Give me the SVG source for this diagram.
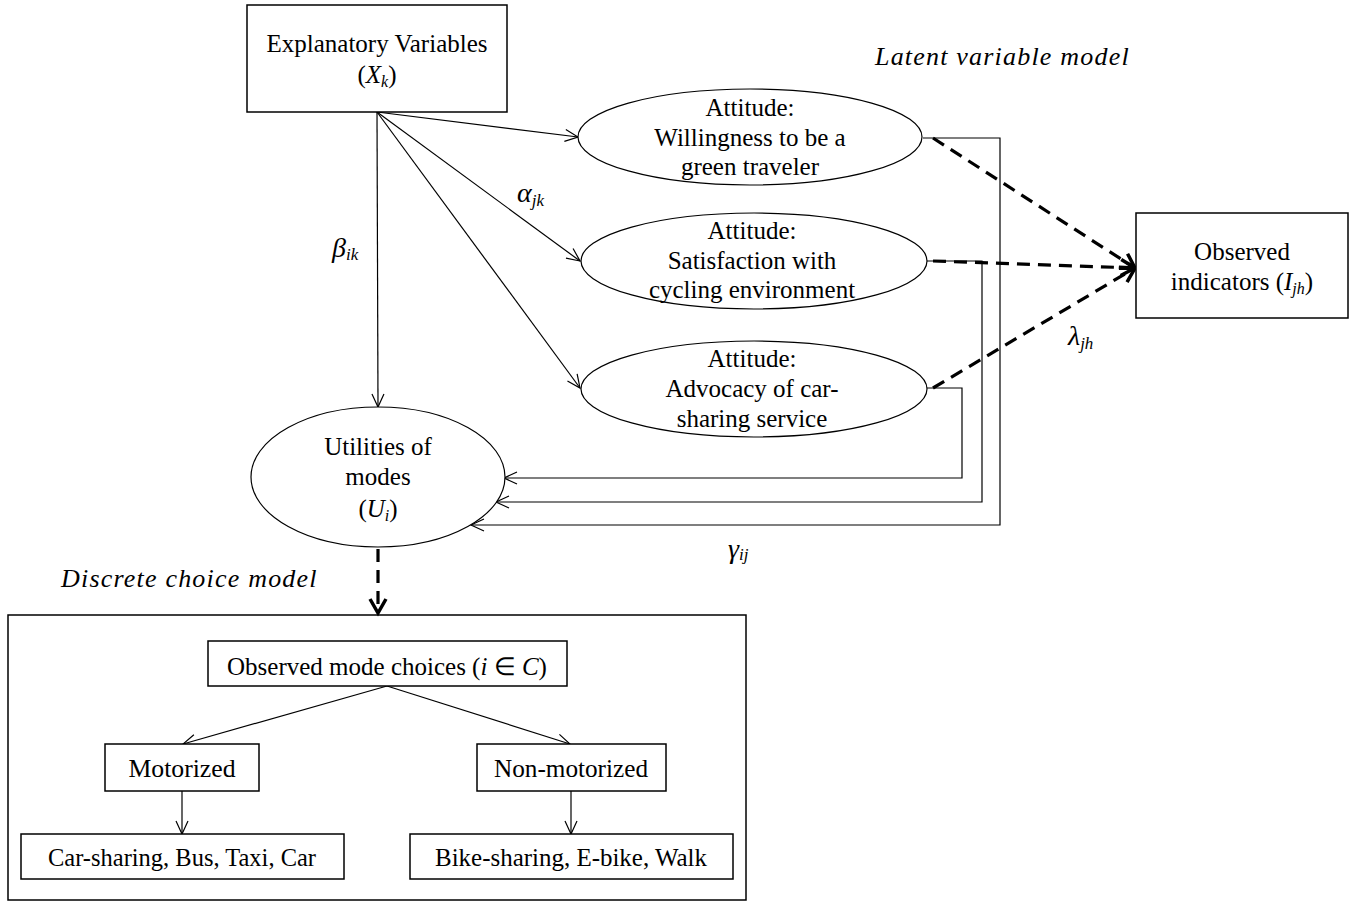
<svg xmlns="http://www.w3.org/2000/svg" width="1351" height="905" viewBox="0 0 1351 905">
  <style>
    text { font-family: "Liberation Serif", "Times New Roman", serif; fill: #000; }
    .t { font-size: 25px; text-anchor: middle; }
    .b { font-size: 26px; text-anchor: middle; }
    .it { font-style: italic; }
    .sub { font-size: 16px; font-style: italic; }
    .greek { font-size: 28px; font-style: italic; }
    .gsub { font-size: 17px; font-style: italic; }
    .title { font-size: 26px; font-style: italic; letter-spacing: 1.2px; }
    .box { fill: #fff; stroke: #000; stroke-width: 1.5; }
    .frame { fill: none; stroke: #000; stroke-width: 1.5; }
    .ell { fill: #fff; stroke: #000; stroke-width: 1.2; }
    .ln { fill: none; stroke: #000; stroke-width: 1.2; }
    .dash { fill: none; stroke: #000; stroke-width: 3.2; stroke-dasharray: 13 8; }
  </style>
  <defs>
    <marker id="open" markerUnits="userSpaceOnUse" markerWidth="16" markerHeight="16" viewBox="-14 -8 16 16" refX="0" refY="0" orient="auto">
      <path d="M-13,-6 L0,0 L-13,6" fill="none" stroke="#000" stroke-width="1.2"/>
    </marker>
    <marker id="bold" markerUnits="userSpaceOnUse" markerWidth="22" markerHeight="22" viewBox="-18 -11 22 22" refX="0" refY="0" orient="auto">
      <path d="M-14,-8 L0,0 L-14,8" fill="none" stroke="#000" stroke-width="3.5"/>
    </marker>
  </defs>

  <!-- section titles -->
  <text class="title" x="875" y="65">Latent variable model</text>
  <text class="title" x="61" y="587">Discrete choice model</text>

  <!-- frame of the discrete choice model -->
  <g id="choice-model">
    <rect class="frame" x="8" y="615" width="738" height="285"/>
  </g>

  <!-- connectors -->
  <g id="connectors">
    <!-- explanatory variables to attitudes and utilities -->
    <line class="ln" x1="377" y1="112" x2="578" y2="137" marker-end="url(#open)"/>
    <line class="ln" x1="377" y1="112" x2="580" y2="261" marker-end="url(#open)"/>
    <line class="ln" x1="377" y1="112" x2="580" y2="388" marker-end="url(#open)"/>
    <line class="ln" x1="377" y1="112" x2="378" y2="407" marker-end="url(#open)"/>
    <!-- attitudes to utilities -->
    <polyline class="ln" points="923,138 1000,138 1000,525 471,525" marker-end="url(#open)"/>
    <polyline class="ln" points="927,261 982,261 982,502 496,502" marker-end="url(#open)"/>
    <polyline class="ln" stroke="#333" points="927,388 962,388 962,478 504,478" marker-end="url(#open)"/>
    <!-- attitudes to observed indicators -->
    <line class="dash" x1="933" y1="138" x2="1135" y2="268" marker-end="url(#bold)"/>
    <line class="dash" x1="933" y1="261" x2="1135" y2="268" marker-end="url(#bold)"/>
    <line class="dash" x1="933" y1="388" x2="1135" y2="268" marker-end="url(#bold)"/>
    <!-- utilities to choices -->
    <line class="dash" x1="378" y1="549" x2="378" y2="613" stroke-dasharray="14 9" marker-end="url(#bold)"/>
    <!-- choice tree -->
    <line class="ln" x1="387" y1="686" x2="183" y2="744" marker-end="url(#open)"/>
    <line class="ln" x1="387" y1="686" x2="570" y2="744" marker-end="url(#open)"/>
    <line class="ln" x1="182" y1="791" x2="182" y2="834" marker-end="url(#open)"/>
    <line class="ln" x1="571" y1="791" x2="571" y2="834" marker-end="url(#open)"/>
  </g>

  <!-- coefficient labels -->
  <text class="greek" x="332" y="257">β<tspan class="gsub" dy="3">ik</tspan></text>
  <text class="greek" x="517" y="202">α<tspan class="gsub" dy="4">jk</tspan></text>
  <text class="greek" x="1068" y="345">λ<tspan class="gsub" dy="4">jh</tspan></text>
  <text class="greek" x="728" y="558">γ<tspan class="gsub" dy="2">ij</tspan></text>

  <g id="explanatory">
    <rect class="box" x="247" y="5" width="260" height="107"/>
    <text class="t" x="377" y="52">Explanatory Variables</text>
    <text class="t" x="377" y="83">(<tspan class="it">X</tspan><tspan class="sub" dy="4">k</tspan><tspan dy="-4">)</tspan></text>
  </g>

  <g id="attitude-green">
    <ellipse class="ell" cx="750" cy="137" rx="172" ry="48"/>
    <text class="t" x="750" y="116">Attitude:</text>
    <text class="t" x="750" y="146">Willingness to be a</text>
    <text class="t" x="750" y="175">green traveler</text>
  </g>

  <g id="attitude-cycling">
    <ellipse class="ell" cx="754" cy="261" rx="173" ry="48"/>
    <text class="t" x="752" y="239">Attitude:</text>
    <text class="t" x="752" y="269">Satisfaction with</text>
    <text class="t" x="752" y="298">cycling environment</text>
  </g>

  <g id="attitude-carsharing">
    <ellipse class="ell" cx="754" cy="389" rx="173" ry="48"/>
    <text class="t" x="752" y="367">Attitude:</text>
    <text class="t" x="752" y="397">Advocacy of car-</text>
    <text class="t" x="752" y="427">sharing service</text>
  </g>

  <g id="indicators">
    <rect class="box" x="1136" y="213" width="212" height="105"/>
    <text class="t" x="1242" y="260">Observed</text>
    <text class="t" x="1242" y="290">indicators (<tspan class="it">I</tspan><tspan class="sub" dy="4">jh</tspan><tspan dy="-4">)</tspan></text>
  </g>

  <g id="utilities">
    <ellipse class="ell" cx="378" cy="477" rx="127" ry="70"/>
    <text class="t" x="378" y="455">Utilities of</text>
    <text class="t" x="378" y="485">modes</text>
    <text class="t" x="378" y="517">(<tspan class="it">U</tspan><tspan class="sub" dy="4">i</tspan><tspan dy="-4">)</tspan></text>
  </g>

  <g id="observed-choices">
    <rect class="box" x="208" y="641" width="359" height="45"/>
    <text class="b" x="387" y="675" style="font-size:25px">Observed mode choices (<tspan class="it">i</tspan> ∈ <tspan class="it">C</tspan>)</text>
  </g>

  <g id="motorized">
    <rect class="box" x="105" y="744" width="154" height="47"/>
    <text class="b" x="182" y="777" textLength="107" lengthAdjust="spacingAndGlyphs">Motorized</text>
  </g>

  <g id="non-motorized">
    <rect class="box" x="477" y="744" width="189" height="47"/>
    <text class="b" x="571" y="777" textLength="154" lengthAdjust="spacingAndGlyphs">Non-motorized</text>
  </g>

  <g id="motorized-modes">
    <rect class="box" x="21" y="834" width="323" height="45"/>
    <text class="b" x="182" y="866" textLength="268" lengthAdjust="spacingAndGlyphs">Car-sharing, Bus, Taxi, Car</text>
  </g>

  <g id="non-motorized-modes">
    <rect class="box" x="410" y="834" width="323" height="45"/>
    <text class="b" x="571" y="866" textLength="272" lengthAdjust="spacingAndGlyphs">Bike-sharing, E-bike, Walk</text>
  </g>
</svg>
